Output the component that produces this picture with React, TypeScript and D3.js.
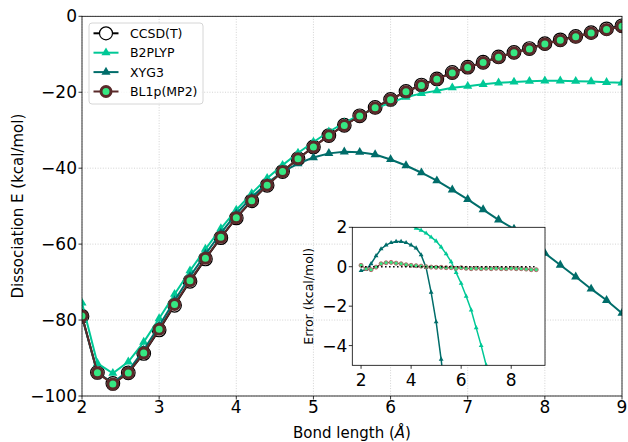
import React from "react";
import * as d3 from "d3";

const bondLength = [2.0, 2.2, 2.4, 2.6, 2.8, 3.0, 3.2, 3.4, 3.6, 3.8, 4.0, 4.2, 4.4, 4.6, 4.8, 5.0, 5.2, 5.4, 5.6, 5.8, 6.0, 6.2, 6.4, 6.6, 6.8, 7.0, 7.2, 7.4, 7.6, 7.8, 8.0, 8.2, 8.4, 8.6, 8.8, 9.0];
const ccsdt = [-79.0, -93.8, -96.7, -93.9, -88.8, -82.6, -76.1, -69.8, -63.9, -58.3, -53.1, -48.6, -44.5, -40.9, -37.5, -34.4, -31.4, -28.7, -26.2, -24.0, -21.9, -19.8, -18.1, -16.5, -14.8, -13.4, -12.1, -10.7, -9.5, -8.5, -7.2, -6.2, -5.3, -4.3, -3.3, -2.5];
const b2plyp = [-75.5, -91.4, -94.0, -91.0, -85.8, -79.6, -73.2, -67.0, -61.3, -55.9, -51.0, -46.65, -42.65, -39.2, -36.0, -33.1, -30.4, -28.05, -25.95, -24.3, -22.75, -21.3, -20.3, -19.6, -18.8, -18.4, -17.9, -17.5, -17.3, -17.1, -17.0, -17.0, -17.1, -17.2, -17.4, -17.5];
const xyg3 = [-79.2, -93.95, -96.55, -93.35, -87.9, -81.5, -74.88, -68.52, -62.62, -57.08, -52.0, -47.65, -43.9, -40.95, -38.8, -37.2, -36.1, -35.7, -35.8, -36.4, -37.7, -39.3, -41.2, -43.3, -45.7, -48.2, -50.9, -53.6, -56.0, -59.0, -62.4, -65.5, -68.6, -71.8, -74.8, -78.2];
const bl1p = [-78.93, -93.9, -96.85, -93.92, -88.65, -82.4, -75.88, -69.62, -63.75, -58.2, -53.03, -48.55, -44.47, -40.9, -37.52, -34.43, -31.43, -28.75, -26.25, -24.08, -21.95, -19.88, -18.2, -16.58, -14.9, -13.48, -12.2, -10.78, -9.6, -8.6, -7.28, -6.3, -5.4, -4.42, -3.45, -2.65];

const mainXTicks = [2, 3, 4, 5, 6, 7, 8, 9];
const mainYTicks = [0, -20, -40, -60, -80, -100];
const insetXTicks = [2, 4, 6, 8];
const insetYTicks = [2, 0, -2, -4];

const C_B2 = "#00c896";
const C_XY = "#006d6a";
const C_BL = "#5a2a2a";
const C_BLFILL = "#36e882";
const FONT = "DejaVu Sans";
const TICK_FS = 17;
const LABEL_FS = 15;
const SMALL_FS = 12.5;

const fmt = (v: number) => (v < 0 ? "\u2212" + Math.abs(v) : String(v));

export default function App() {
  const W = 628, H = 442;
  const m = { l: 82, r: 622, t: 16.3, b: 396 };
  const x = d3.scaleLinear().domain([2, 9]).range([m.l, m.r]);
  const y = d3.scaleLinear().domain([-100, 0]).range([m.b, m.t]);

  const ins = { l: 352.3, r: 545, t: 227.3, b: 365.3 };
  const xi = d3.scaleLinear().domain([1.65, 9.35]).range([ins.l, ins.r]);
  const yi = d3.scaleLinear().domain([-5, 2]).range([ins.b, ins.t]);

  const pts = (arr: number[]) => bondLength.map((b, i) => [b, arr[i]] as [number, number]);
  const err = (arr: number[]) => bondLength.map((b, i) => [b, arr[i] - ccsdt[i]] as [number, number]);

  const lineMain = d3.line<[number, number]>().x((d) => x(d[0])).y((d) => y(d[1]));
  const lineIns = d3.line<[number, number]>().x((d) => xi(d[0])).y((d) => yi(d[1]));

  const triMain = d3.symbol(d3.symbolTriangle, 36)()!;
  const triIns = d3.symbol(d3.symbolTriangle, 10)()!;
  const triLeg = d3.symbol(d3.symbolTriangle, 36)()!;

  const grid = "#c8c8c8";

  const legendItems = [
    { label: "CCSD(T)", kind: "ccsd" },
    { label: "B2PLYP", kind: "b2" },
    { label: "XYG3", kind: "xy" },
    { label: "BL1p(MP2)", kind: "bl" },
  ];

  return (
    <svg width={W} height={H} style={{ display: "block", position: "absolute", left: 0, top: 0 }} fontFamily={FONT}>
      <defs>
        <clipPath id="clipMain">
          <rect x={m.l} y={m.t} width={m.r - m.l} height={m.b - m.t} />
        </clipPath>
        <clipPath id="clipIns">
          <rect x={ins.l} y={ins.t} width={ins.r - ins.l} height={ins.b - ins.t} />
        </clipPath>
      </defs>
      <rect x={0} y={0} width={W} height={H} fill="white" />
      {/* grid */}
      {mainXTicks.map((t) => (
        <line key={"gx" + t} x1={x(t)} x2={x(t)} y1={m.t} y2={m.b} stroke={grid} strokeWidth={0.8} strokeDasharray="1,1.6" />
      ))}
      {mainYTicks.map((t) => (
        <line key={"gy" + t} x1={m.l} x2={m.r} y1={y(t)} y2={y(t)} stroke={grid} strokeWidth={0.8} strokeDasharray="1,1.6" />
      ))}
      <g clipPath="url(#clipMain)">
        {/* CCSD(T) */}
        <path d={lineMain(pts(ccsdt))!} fill="none" stroke="black" strokeWidth={2} />
        {pts(ccsdt).map((d, i) => (
          <circle key={"c" + i} cx={x(d[0])} cy={y(d[1])} r={6.8} fill="white" stroke="black" strokeWidth={1.2} />
        ))}
        {/* B2PLYP */}
        <path d={lineMain(pts(b2plyp))!} fill="none" stroke={C_B2} strokeWidth={2} />
        {pts(b2plyp).map((d, i) => (
          <path key={"b" + i} d={triMain} transform={`translate(${x(d[0])},${y(d[1])})`} fill={C_B2} />
        ))}
        {/* XYG3 */}
        <path d={lineMain(pts(xyg3))!} fill="none" stroke={C_XY} strokeWidth={2} />
        {pts(xyg3).map((d, i) => (
          <path key={"x" + i} d={triMain} transform={`translate(${x(d[0])},${y(d[1])})`} fill={C_XY} />
        ))}
        {/* BL1p */}
        <path d={lineMain(pts(bl1p))!} fill="none" stroke={C_BL} strokeWidth={2} />
        {pts(bl1p).map((d, i) => (
          <circle key={"l" + i} cx={x(d[0])} cy={y(d[1])} r={5} fill={C_BLFILL} stroke={C_BL} strokeWidth={3} />
        ))}
      </g>
      {/* spines */}
      <rect x={m.l} y={m.t} width={m.r - m.l} height={m.b - m.t} fill="none" stroke="black" strokeWidth={0.8} />
      {mainXTicks.map((t) => (
        <g key={"tx" + t}>
          <line x1={x(t)} x2={x(t)} y1={m.b} y2={m.b + 3.5} stroke="black" strokeWidth={0.8} />
          <text x={x(t)} y={m.b + 4} fontSize={TICK_FS} textAnchor="middle" dominantBaseline="hanging">{fmt(t)}</text>
        </g>
      ))}
      {mainYTicks.map((t) => (
        <g key={"ty" + t}>
          <line x1={m.l - 3.5} x2={m.l} y1={y(t)} y2={y(t)} stroke="black" strokeWidth={0.8} />
          <text x={m.l - 5} y={y(t)} fontSize={TICK_FS} textAnchor="end" dominantBaseline="central">{fmt(t)}</text>
        </g>
      ))}
      <text x={(m.l + m.r) / 2} y={438} fontSize={LABEL_FS} textAnchor="middle">
        Bond length (<tspan fontStyle="italic">Å</tspan>)
      </text>
      <text transform={`translate(17.5,${(m.t + m.b) / 2}) rotate(-90)`} fontSize={LABEL_FS} textAnchor="middle" dominantBaseline="central">
        Dissociation E (kcal/mol)
      </text>

      {/* legend */}
      <rect x={89} y={23} width={114} height={81} rx={3} fill="white" fillOpacity={0.8} stroke="#cccccc" strokeWidth={0.8} />
      {legendItems.map((it, i) => {
        const cy = 33.3 + i * 19.4;
        const x1 = 93.5, x2 = 118.5, xm = 106;
        return (
          <g key={it.label}>
            {it.kind === "ccsd" && (
              <>
                <line x1={x1} x2={x2} y1={cy} y2={cy} stroke="black" strokeWidth={2} />
                <circle cx={xm} cy={cy} r={6.5} fill="white" stroke="black" strokeWidth={1.2} />
              </>
            )}
            {it.kind === "b2" && (
              <>
                <line x1={x1} x2={x2} y1={cy} y2={cy} stroke={C_B2} strokeWidth={2} />
                <path d={triLeg} transform={`translate(${xm},${cy})`} fill={C_B2} />
              </>
            )}
            {it.kind === "xy" && (
              <>
                <line x1={x1} x2={x2} y1={cy} y2={cy} stroke={C_XY} strokeWidth={2} />
                <path d={triLeg} transform={`translate(${xm},${cy})`} fill={C_XY} />
              </>
            )}
            {it.kind === "bl" && (
              <>
                <line x1={x1} x2={x2} y1={cy} y2={cy} stroke={C_BL} strokeWidth={2} />
                <circle cx={xm} cy={cy} r={5} fill={C_BLFILL} stroke={C_BL} strokeWidth={3} />
              </>
            )}
            <text x={130} y={cy} fontSize={SMALL_FS} dominantBaseline="central">{it.label}</text>
          </g>
        );
      })}

      {/* inset */}
      <rect x={ins.l} y={ins.t} width={ins.r - ins.l} height={ins.b - ins.t} fill="white" />
      <g clipPath="url(#clipIns)">
        <path d={lineIns(err(b2plyp))!} fill="none" stroke={C_B2} strokeWidth={1.5} />
        {err(b2plyp).map((d, i) => (
          <path key={"ib" + i} d={triIns} transform={`translate(${xi(d[0])},${yi(d[1])})`} fill={C_B2} />
        ))}
        <path d={lineIns(err(xyg3))!} fill="none" stroke={C_XY} strokeWidth={1.5} />
        {err(xyg3).map((d, i) => (
          <path key={"ix" + i} d={triIns} transform={`translate(${xi(d[0])},${yi(d[1])})`} fill={C_XY} />
        ))}
        <path d={lineIns(err(bl1p))!} fill="none" stroke={C_BL} strokeWidth={1} />
        {err(bl1p).map((d, i) => (
          <circle key={"il" + i} cx={xi(d[0])} cy={yi(d[1])} r={2} fill={C_BLFILL} stroke="#b06a6a" strokeWidth={1} />
        ))}
        <path d={lineIns(err(ccsdt))!} fill="none" stroke="black" strokeWidth={1.5} strokeDasharray="1.5,2.5" />
      </g>
      <rect x={ins.l} y={ins.t} width={ins.r - ins.l} height={ins.b - ins.t} fill="none" stroke="black" strokeWidth={0.8} />
      {insetXTicks.map((t) => (
        <g key={"itx" + t}>
          <line x1={xi(t)} x2={xi(t)} y1={ins.b} y2={ins.b + 3.5} stroke="black" strokeWidth={0.8} />
          <text x={xi(t)} y={ins.b + 8} fontSize={TICK_FS} textAnchor="middle" dominantBaseline="hanging">{fmt(t)}</text>
        </g>
      ))}
      {insetYTicks.map((t) => (
        <g key={"ity" + t}>
          <line x1={ins.l - 3.5} x2={ins.l} y1={yi(t)} y2={yi(t)} stroke="black" strokeWidth={0.8} />
          <text x={ins.l - 5} y={yi(t)} fontSize={TICK_FS} textAnchor="end" dominantBaseline="central">{fmt(t)}</text>
        </g>
      ))}
      <text transform={`translate(308,${(ins.t + ins.b) / 2}) rotate(-90)`} fontSize={SMALL_FS} textAnchor="middle" dominantBaseline="central">
        Error (kcal/mol)
      </text>
    </svg>
  );
}
